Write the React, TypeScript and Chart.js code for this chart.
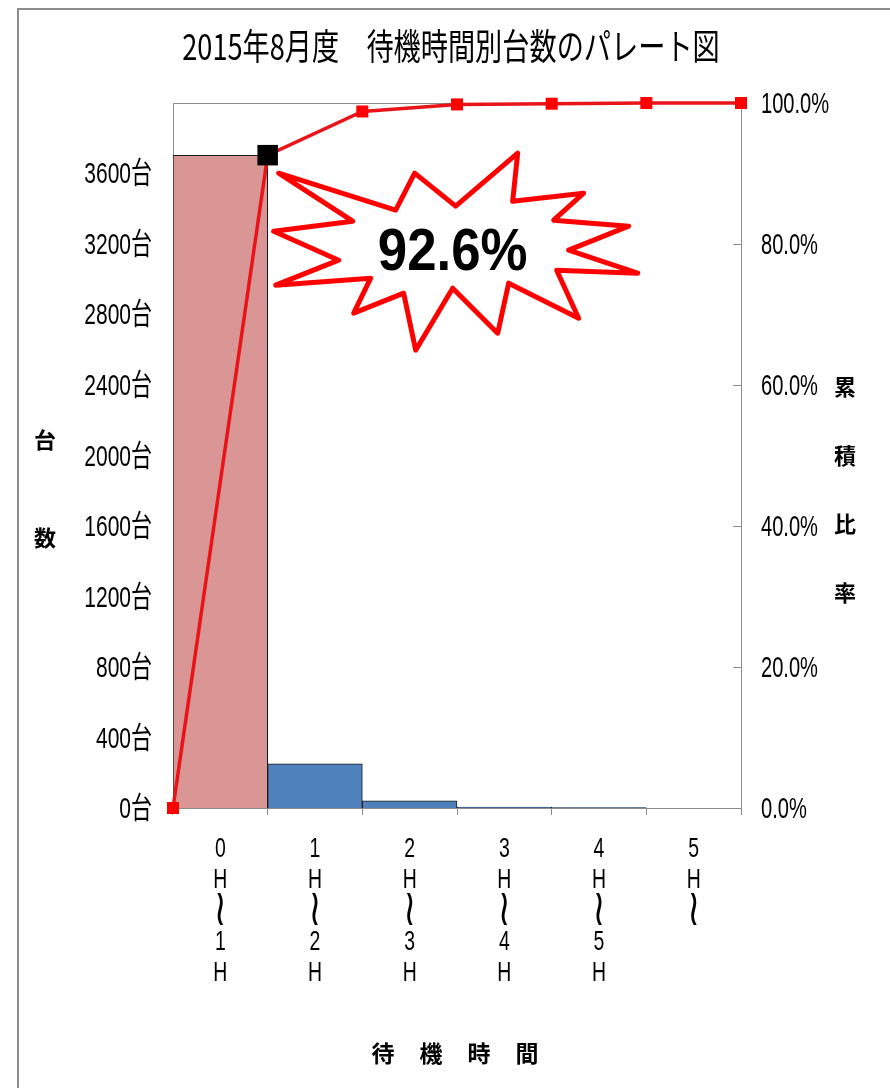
import React, { useEffect, useRef } from "react";
import { Chart, registerables } from "chart.js";

Chart.register(...registerables);

// ---- data ----
const categories: string[][] = [
  ["0", "H", "≀", "1", "H"],
  ["1", "H", "≀", "2", "H"],
  ["2", "H", "≀", "3", "H"],
  ["3", "H", "≀", "4", "H"],
  ["4", "H", "≀", "5", "H"],
  ["5", "H", "≀"],
];
const counts = [3700, 250, 40, 5, 2, 0];
const cumulativePct = [0, 92.6, 98.8, 99.8, 99.9, 100, 100];
const leftTickValues = [0, 400, 800, 1200, 1600, 2000, 2400, 2800, 3200, 3600];
const rightTickValues = [0, 20, 40, 60, 80, 100];
const chartTitle = "2015年8月度　待機時間別台数のパレート図";
const leftAxisTitle = ["台", "数"];
const rightAxisTitle = ["累", "積", "比", "率"];
const bottomAxisTitle = ["待", "機", "時", "間"];
const highlightIndex = 1;
const calloutText = "92.6%";
const barColors = ["#D99694", "#4F81BD", "#4F81BD", "#4F81BD", "#4F81BD", "#4F81BD"];

const SANS = "'Liberation Sans', 'Noto Sans CJK JP', sans-serif";
const CJK = "'Noto Sans CJK JP', sans-serif";
const DJV = "'DejaVu Sans', sans-serif";

// starburst outline relative to highlighted point
const starOffsets: [number, number][] = [
  [11, 18], [128, 55], [147, 18], [188, 51], [250, -2], [245, 46],
  [316, 38], [286, 65], [361, 71], [301, 95], [370, 118], [289, 115],
  [311, 163], [241, 128], [230, 178], [185, 133], [148, 195], [136, 138],
  [86, 158], [103, 123], [8, 130], [71, 105], [6, 76], [85, 66],
];

function condensed(
  ctx: CanvasRenderingContext2D,
  text: string,
  x: number,
  y: number,
  sx: number,
  align: CanvasTextAlign,
  sy = 1
) {
  ctx.save();
  ctx.translate(x, y);
  ctx.scale(sx, sy);
  ctx.textAlign = align;
  ctx.fillText(text, 0, 0);
  ctx.restore();
}

const decorPlugin = {
  id: "decor",
  beforeDraw(chart: any) {
    const { ctx, chartArea: a } = chart;
    ctx.save();
    ctx.fillStyle = "#ffffff";
    ctx.fillRect(a.left, a.top, a.right - a.left, a.bottom - a.top);
    ctx.strokeStyle = "#8c8c8c";
    ctx.lineWidth = 1;
    ctx.beginPath();
    ctx.moveTo(a.left, a.top + 0.5);
    ctx.lineTo(a.right, a.top + 0.5);
    ctx.stroke();
    // inward tick marks on the right axis
    const sy1 = chart.scales.y1;
    sy1.ticks.forEach((t: any) => {
      const y = Math.round(sy1.getPixelForValue(t.value)) + 0.5;
      ctx.beginPath();
      ctx.moveTo(a.right - 8, y);
      ctx.lineTo(a.right, y);
      ctx.stroke();
    });
    ctx.restore();
  },
  afterDraw(chart: any) {
    const { ctx, chartArea: a } = chart;
    const sx = chart.scales.x;
    const sy = chart.scales.y;
    const sy1 = chart.scales.y1;
    ctx.save();
    ctx.fillStyle = "#000";
    ctx.textBaseline = "middle";

    // title
    ctx.font = `36px ${CJK}`;
    condensed(ctx, chartTitle, (a.left + a.right) / 2 - 6, a.top - 57, 0.755, "center");

    // left tick labels
    ctx.font = `30px ${SANS}`;
    sy.ticks.forEach((t: any) => {
      condensed(ctx, `${t.value}台`, a.left - 21, sy.getPixelForValue(t.value) + 2, 0.7, "right");
    });
    // right tick labels
    sy1.ticks.forEach((t: any) => {
      condensed(ctx, `${Number(t.value).toFixed(1)}%`, a.right + 20, sy1.getPixelForValue(t.value) + 2, 0.67, "left");
    });
    // category labels (stacked vertically)
    categories.forEach((lines, i) => {
      const x = sx.getPixelForTick(i);
      lines.forEach((ln, j) => {
        const y = a.bottom + 42 + j * 31;
        if (ln === "≀") {
          ctx.font = `30px ${DJV}`;
          condensed(ctx, ln, x, y, 1.15, "center", 1.7);
        } else {
          ctx.font = `27px ${SANS}`;
          condensed(ctx, ln, x, y, 0.72, "center");
        }
      });
    });

    // axis titles
    ctx.textAlign = "center";
    ctx.font = `bold 22px ${CJK}`;
    leftAxisTitle.forEach((c, i) => ctx.fillText(c, a.left - 128, 440 + i * 98));
    rightAxisTitle.forEach((c, i) => ctx.fillText(c, a.right + 104, 387 + i * 68.5));
    ctx.font = `bold 23px ${CJK}`;
    bottomAxisTitle.forEach((c, i) => ctx.fillText(c, 383 + i * 48, a.bottom + 245));

    // callout starburst
    const meta = chart.getDatasetMeta(1);
    const p = meta.data[highlightIndex];
    if (p) {
      const px = p.x, py = p.y;
      ctx.beginPath();
      starOffsets.forEach(([dx, dy], i) => {
        if (i === 0) ctx.moveTo(px + dx, py + dy);
        else ctx.lineTo(px + dx, py + dy);
      });
      ctx.closePath();
      ctx.fillStyle = "#ffffff";
      ctx.fill();
      ctx.lineWidth = 5;
      ctx.lineJoin = "round";
      ctx.strokeStyle = "#ff0000";
      ctx.stroke();
      ctx.fillStyle = "#000";
      ctx.textBaseline = "alphabetic";
      ctx.font = `bold 60px ${SANS}`;
      condensed(ctx, calloutText, px + 185, py + 115, 0.88, "center");
    }
    ctx.restore();
  },
};

export default function App() {
  const ref = useRef<HTMLCanvasElement | null>(null);
  useEffect(() => {
    if (!ref.current) return;
    const total = counts.reduce((s, v) => s + v, 0);
    const lineData = cumulativePct.map((v, i) => ({ x: i, y: v }));
    const chart = new Chart(ref.current, {
      type: "bar",
      data: {
        labels: categories as any,
        datasets: [
          {
            type: "bar",
            data: counts,
            backgroundColor: barColors,
            borderColor: "#1a1a1a",
            borderWidth: 1,
            barPercentage: 1,
            categoryPercentage: 1,
            grouped: false,
            xAxisID: "x",
            yAxisID: "y",
            order: 2,
          } as any,
          {
            type: "line",
            data: lineData,
            borderColor: "#e8141a",
            borderWidth: 3.5,
            pointStyle: "rect",
            pointRadius: cumulativePct.map((_, i) => (i === highlightIndex ? 14.5 : 8.5)),
            pointBackgroundColor: cumulativePct.map((_, i) => (i === highlightIndex ? "#000" : "#ff0000")),
            pointBorderColor: cumulativePct.map((_, i) => (i === highlightIndex ? "#000" : "#ff0000")),
            pointBorderWidth: 0,
            xAxisID: "xl",
            yAxisID: "y1",
            clip: false,
            order: 1,
          } as any,
        ],
      },
      options: {
        animation: false,
        responsive: false,
        maintainAspectRatio: false,
        layout: { padding: { top: 103, left: 0, right: 0, bottom: 0 } },
        plugins: { legend: { display: false }, title: { display: false }, tooltip: { enabled: false } },
        scales: {
          x: {
            type: "category",
            position: "bottom",
            offset: true,
            grid: { offset: true, drawOnChartArea: false, drawTicks: true, tickLength: 7, color: "#8c8c8c" },
            border: { color: "#8c8c8c" },
            ticks: { display: false, autoSkip: false },
            afterFit: (s: any) => { s.height = 280; },
          },
          xl: {
            type: "linear",
            display: false,
            min: 0,
            max: categories.length,
            offset: false,
          },
          y: {
            type: "linear",
            position: "left",
            min: 0,
            max: total,
            grid: { display: false, drawTicks: false },
            border: { color: "#8c8c8c" },
            ticks: { display: false },
            afterBuildTicks: (s: any) => {
              s.ticks = leftTickValues.map((v) => ({ value: v }));
            },
            afterFit: (s: any) => { s.width = 173; },
          },
          y1: {
            type: "linear",
            position: "right",
            min: 0,
            max: 100,
            grid: { drawOnChartArea: false, drawTicks: false },
            border: { color: "#8c8c8c" },
            ticks: { display: false },
            afterBuildTicks: (s: any) => {
              s.ticks = rightTickValues.map((v) => ({ value: v }));
            },
            afterFit: (s: any) => { s.width = 149; },
          },
        },
      } as any,
      plugins: [decorPlugin],
    });
    return () => chart.destroy();
  }, []);

  return (
    <div style={{ position: "absolute", left: 0, top: 0, width: 890, height: 1088, background: "#fff", overflow: "hidden" }}>
      <div
        style={{
          position: "absolute",
          left: 17,
          top: 8,
          width: 900,
          height: 1100,
          borderLeft: "2px solid #8c8c8c",
          borderTop: "2px solid #8c8c8c",
        }}
      />
      <canvas ref={ref} width={890} height={1088} style={{ position: "absolute", left: 0, top: 0, width: 890, height: 1088 }} />
    </div>
  );
}
